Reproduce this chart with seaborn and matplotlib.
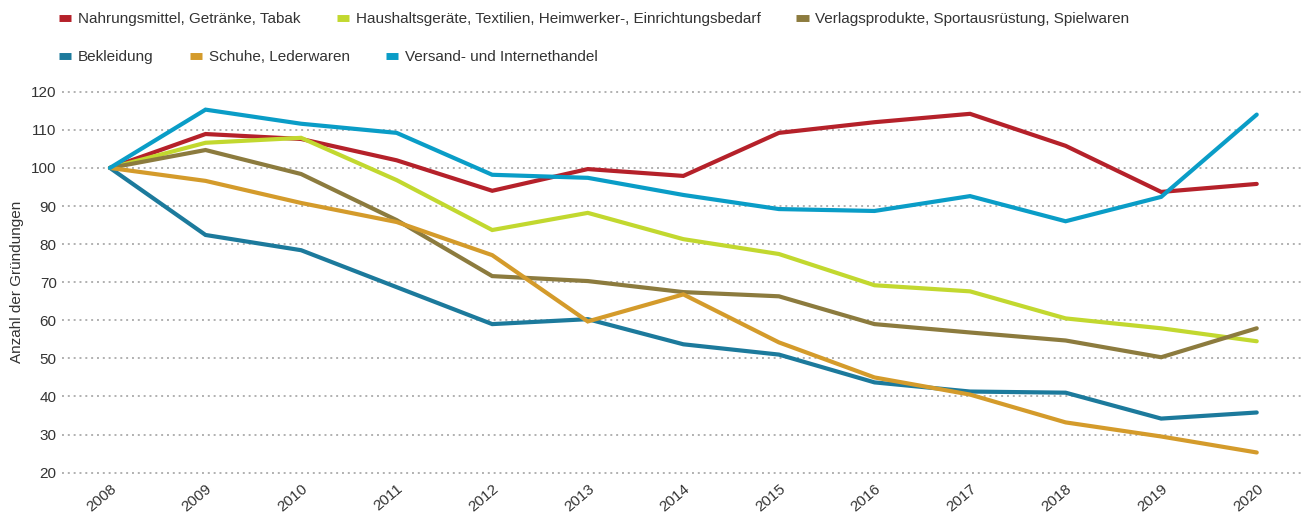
import matplotlib
matplotlib.use("Agg")
import matplotlib.pyplot as plt
from matplotlib.lines import Line2D
import seaborn as sns
import pandas as pd

years = list(range(2008, 2021))

nahrung = [100, 108.9, 107.6, 102.0, 94.0, 99.7, 97.9, 109.2, 112.0, 114.2, 105.8, 93.7, 95.8]
haushalt = [100, 106.6, 107.9, 96.8, 83.7, 88.2, 81.3, 77.4, 69.2, 67.6, 60.5, 57.9, 54.5]
verlag = [100, 104.7, 98.4, 86.3, 71.6, 70.3, 67.4, 66.3, 59.0, 56.8, 54.7, 50.3, 57.9]
bekleidung = [100, 82.4, 78.4, 68.7, 59.0, 60.3, 53.7, 51.0, 43.7, 41.3, 41.0, 34.2, 35.8]
schuhe = [100, 96.6, 90.8, 85.8, 77.1, 59.7, 66.8, 54.2, 45.0, 40.5, 33.2, 29.5, 25.3]
versand = [100, 115.3, 111.6, 109.2, 98.2, 97.4, 92.9, 89.2, 88.7, 92.6, 86.0, 92.4, 114.0]

names = [
    "Nahrungsmittel, Getränke, Tabak",
    "Haushaltsgeräte, Textilien, Heimwerker-, Einrichtungsbedarf",
    "Verlagsprodukte, Sportausrüstung, Spielwaren",
    "Bekleidung",
    "Schuhe, Lederwaren",
    "Versand- und Internethandel",
]
series = [nahrung, haushalt, verlag, bekleidung, schuhe, versand]
colors = ["#b5212a", "#c2d82f", "#8c7b3e", "#1c7a9c", "#d49b2b", "#0a9dc7"]
yticks = [20, 30, 40, 50, 60, 70, 80, 90, 100, 110, 120]

rows = []
for name, vals in zip(names, series):
    for y, v in zip(years, vals):
        rows.append({"Jahr": y, "Wert": v, "Branche": name})
df = pd.DataFrame(rows)

sns.set_theme(style="white")
plt.rcParams["font.family"] = ["Liberation Sans", "DejaVu Sans"]
plt.rcParams["text.color"] = "#333333"

fig = plt.figure(figsize=(13.01, 5.17), dpi=100)
ax = fig.add_axes([0.0478, 0.0710, 0.9549, 0.7663])

sns.lineplot(data=df, x="Jahr", y="Wert", hue="Branche", hue_order=names,
             palette=colors, linewidth=3, legend=False, ax=ax,
             solid_joinstyle="miter")

ax.set_xlim(2007.5, 2020.5)
ax.set_ylim(18, 122)
ax.set_yticks(yticks)
ax.set_xticks(years)
ax.set_xticklabels([str(y) for y in years], rotation=40, ha="right",
                   rotation_mode="anchor", fontsize=11, color="#333333")
ax.tick_params(axis="x", length=0, pad=1)
ax.tick_params(axis="y", length=0, pad=4, labelsize=11, labelcolor="#333333")
ax.set_xlabel("")
ax.set_ylabel("Anzahl der Gründungen", fontsize=11, color="#333333", labelpad=5)
ax.grid(axis="y", color="#b0b0b0", linestyle=(0, (1, 2)), linewidth=1.4)
ax.grid(axis="x", visible=False)
for s in ax.spines.values():
    s.set_visible(False)

def handles(idx):
    return [Line2D([0], [0], color=colors[i], lw=5, solid_capstyle="butt") for i in idx]

leg_kw = dict(loc="upper left", frameon=False, fontsize=11, handlelength=0.8,
              handletextpad=0.45, columnspacing=2.35, borderpad=0, borderaxespad=0)
leg1 = fig.legend(handles([0, 1, 2]), names[0:3], ncol=3,
                  bbox_to_anchor=(59 / 1301, 1 - 12 / 517), **leg_kw)
leg2 = fig.legend(handles([3, 4, 5]), names[3:6], ncol=3,
                  bbox_to_anchor=(59 / 1301, 1 - 50 / 517), **leg_kw)

fig.savefig("out.png", dpi=100)
